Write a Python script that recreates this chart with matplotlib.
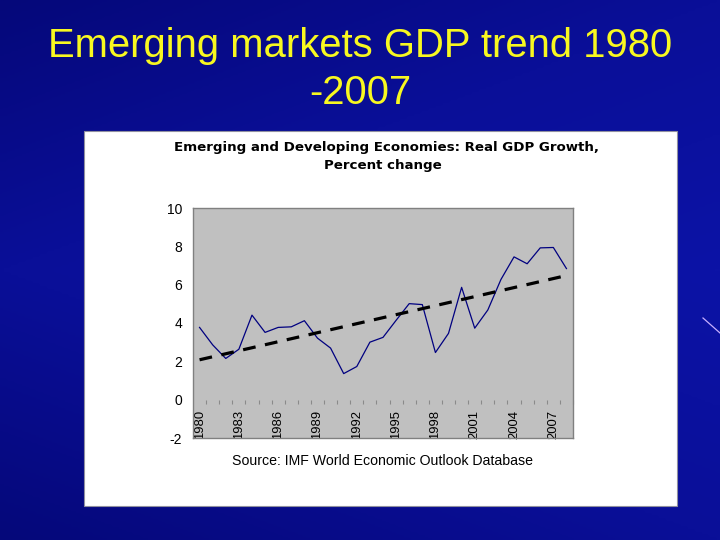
import matplotlib.pyplot as plt
import numpy as np
from matplotlib.patches import Rectangle
from matplotlib.colors import LinearSegmentedColormap

plt.rcParams['axes.unicode_minus'] = False

years = list(range(1980, 2009))
gdp_growth = [3.77, 2.86, 2.15, 2.63, 4.41, 3.51, 3.77, 3.80, 4.12, 3.21,
              2.69, 1.36, 1.73, 3.00, 3.25, 4.14, 5.01, 4.96, 2.46, 3.46,
              5.86, 3.73, 4.68, 6.27, 7.45, 7.09, 7.92, 7.94, 6.84]
label_years = years[::3]

source_text = "Source: IMF World Economic Outlook Database"

fig = plt.figure(figsize=(7.2, 5.4), dpi=100)

# slide background
bg = fig.add_axes([0, 0, 1, 1])
bg.set_axis_off()
cmap = LinearSegmentedColormap.from_list("slide", ["#05087a", "#0a0f98", "#0c13a6"])
yy, xx = np.mgrid[0:1:200j, 0:1:200j]
grad = 0.5 * xx + 0.5 * (1 - np.abs(yy - 0.5) * 2)
bg.imshow(grad, cmap=cmap, aspect="auto", extent=[0, 1, 0, 1], origin="lower")
bg.plot([703 / 720, 1.0], [1 - 318 / 540, 1 - 333 / 540], color="#c8b0ff", lw=0.9)
# white chart panel
bg.add_patch(Rectangle((84 / 720, 1 - 506 / 540), 593 / 720, 375 / 540,
                       facecolor="white", edgecolor="#9090a0", lw=0.8))
bg.set_xlim(0, 1)
bg.set_ylim(0, 1)

fig.text(0.5, 1 - 57 / 540, "Emerging markets GDP trend 1980", ha="center", va="baseline",
         color="#f8f820", fontsize=28.8, family="Liberation Sans")
fig.text(0.5, 1 - 104 / 540, "-2007", ha="center", va="baseline",
         color="#f8f820", fontsize=28.8, family="Liberation Sans")

fig.text(386 / 720, 1 - 151 / 540, "Emerging and Developing Economies: Real GDP Growth,",
         ha="center", va="baseline", fontsize=9.6, fontweight="bold", family="DejaVu Sans")
fig.text(383 / 720, 1 - 169 / 540, "Percent change",
         ha="center", va="baseline", fontsize=9.6, fontweight="bold", family="DejaVu Sans")
fig.text(383 / 720, 1 - 465 / 540, source_text, ha="center", va="baseline",
         fontsize=10.2, family="Liberation Sans")

ax = fig.add_axes([193 / 720, 1 - 438 / 540, 380 / 720, 230 / 540])
ax.set_facecolor("#c0c0c0")
for sp in ax.spines.values():
    sp.set_color("#808080")
    sp.set_linewidth(1.0)

x = np.arange(len(years))
ax.plot(x, gdp_growth, color="#000080", lw=0.9)

coef = np.polyfit(x, gdp_growth, 1)
ax.plot(x, np.polyval(coef, x), color="black", lw=2.3, linestyle=(0, (4, 3)))

ax.set_xlim(-0.5, len(years) - 0.5)
ax.set_ylim(-2, 10)
ax.set_yticks(range(-2, 11, 2))
ax.tick_params(axis="y", length=0, pad=8, labelsize=10)
for lbl in ax.get_yticklabels():
    lbl.set_family("Liberation Sans")
ax.set_xticks([])

sec = ax.secondary_xaxis(2 / 12)
sec.set_xticks([years.index(y) for y in label_years], labels=[str(y) for y in label_years],
               rotation=90)
sec.set_xticks(np.arange(0.5, len(years), 1), minor=True)
sec.tick_params(which="major", length=0, pad=7.5, labelsize=9.4)
sec.tick_params(which="minor", length=3, color="#8a8a8a", width=0.8)
for lbl in sec.get_xticklabels():
    lbl.set_family("Liberation Sans")
for sp in sec.spines.values():
    sp.set_visible(False)

fig.savefig("out.png", dpi=100)
